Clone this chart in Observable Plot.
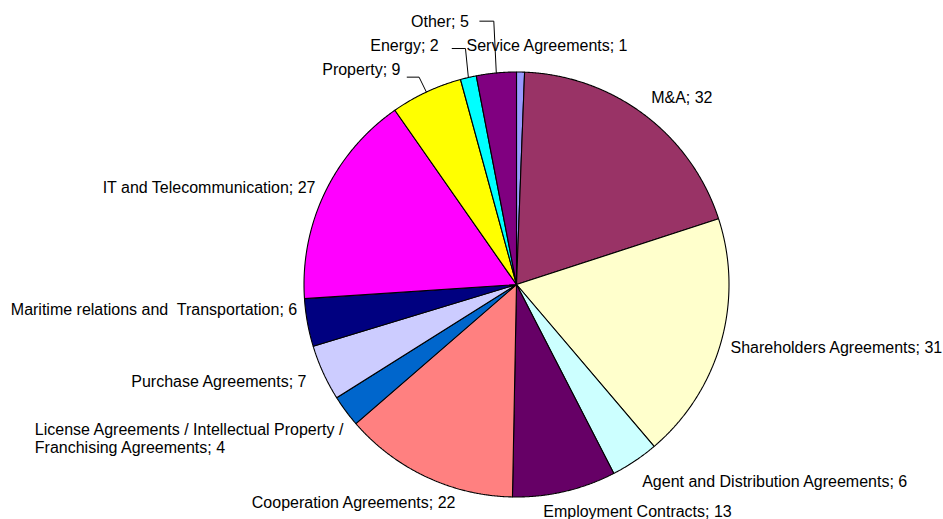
<!DOCTYPE html>
<html>
<head>
<meta charset="utf-8">
<script src="https://cdn.jsdelivr.net/npm/d3@7"></script>
<script src="https://cdn.jsdelivr.net/npm/@observablehq/plot@0.6"></script>
<style>
  html, body { margin: 0; padding: 0; background: #fff; }
  #chart svg text { white-space: pre; }
</style>
</head>
<body>
<div id="chart"></div>
<script>
// ---- data ----
const categories = [
  "Service Agreements", "M&A", "Shareholders Agreements", "Agent and Distribution Agreements",
  "Employment Contracts", "Cooperation Agreements",
  "License Agreements / Intellectual Property /\nFranchising Agreements",
  "Purchase Agreements", "Maritime relations and  Transportation",
  "IT and Telecommunication", "Property", "Energy", "Other"
];
const values = [1, 32, 31, 6, 13, 22, 4, 7, 6, 27, 9, 2, 5];

// ---- styles ----
const palette = [
  "#9999FF", "#993366", "#FFFFCC", "#CCFFFF", "#660066", "#FF8080", "#0066CC",
  "#CCCCFF", "#000080", "#FF00FF", "#FFFF00", "#00FFFF", "#800080"
];

// ---- label layout: offsets (px) from the slice's outer mid-point ----
const labelLayout = [
  {dx: -54,   dy: -26.6, anchor: "start"},
  {dx: 6.5,   dy: -17.9, anchor: "start"},
  {dx: 9.6,   dy: 4.7,   anchor: "start"},
  {dx: 7.4,   dy: 20.5,  anchor: "start"},
  {dx: -21.4, dy: 20,    anchor: "start"},
  {dx: 29.1,  dy: 25.1,  anchor: "end"},
  {dx: -311,  dy: 27.1,  anchor: "start"},
  {dx: -16.7, dy: 8.6,   anchor: "end"},
  {dx: -10.3, dy: -13.3, anchor: "end"},
  {dx: -9.4,  dy: -5.4,  anchor: "end"},
  {dx: -25.9, dy: -22.7, anchor: "end", leader: {sx: -19.2, ex: -7.3, ey: -14.9}},
  {dx: -29.6, dy: -32.1, anchor: "end", leader: {sx: -16.2, ex: -2.9, ey: -29}},
  {dx: -27.5, dy: -51.6, anchor: "end", leader: {sx: -16.5, ex: -2.5, ey: -51.8}}
];

const W = 943, H = 519;
const cx = 516, cy = 284, R = 212.5;

const arcs = d3.pie().sort(null).value(d => d)(values);

// slice polygons
const slicePts = [];
arcs.forEach((a, i) => {
  const name = categories[i];
  slicePts.push({name, color: palette[i], x: 0, y: 0});
  const n = Math.max(2, Math.ceil((a.endAngle - a.startAngle) / (Math.PI / 720)));
  for (let k = 0; k <= n; k++) {
    const t = a.startAngle + (a.endAngle - a.startAngle) * k / n;
    slicePts.push({name, color: palette[i], x: R * Math.sin(t), y: -R * Math.cos(t)});
  }
  slicePts.push({name, color: palette[i], x: 0, y: 0});
});

// labels
const labels = arcs.map((a, i) => {
  const m = (a.startAngle + a.endAngle) / 2;
  const px = R * Math.sin(m), py = -R * Math.cos(m);
  const L = labelLayout[i];
  return {
    text: categories[i] + "; " + values[i],
    x: px + L.dx, y: py + L.dy, anchor: L.anchor, px, py, leader: L.leader, name: categories[i]
  };
});

const leaderPts = [];
labels.forEach(l => {
  if (!l.leader) return;
  const {sx, ex, ey} = l.leader;
  leaderPts.push({name: l.name, x: l.px + sx, y: l.py + ey});
  leaderPts.push({name: l.name, x: l.px + ex, y: l.py + ey});
  leaderPts.push({name: l.name, x: l.px, y: l.py});
});

const font = "'Liberation Sans', Arial, sans-serif";

const chart = Plot.plot({
  width: W,
  height: H,
  margin: 0,
  style: {background: "#fff", fontFamily: font},
  x: {domain: [-cx, W - cx], range: [0, W], axis: null},
  y: {domain: [-cy, H - cy], range: [0, H], axis: null},
  color: {type: "identity"},
  marks: [
    Plot.line(slicePts, {
      x: "x", y: "y", z: "name", fill: "color",
      stroke: "#000", strokeWidth: 1.1, strokeLinejoin: "miter", curve: "linear"
    }),
    Plot.line(leaderPts, {x: "x", y: "y", z: "name", stroke: "#000", strokeWidth: 1}),
    Plot.text(labels.filter(d => d.anchor === "start"), {
      x: "x", y: "y", text: "text", textAnchor: "start", lineAnchor: "middle",
      lineHeight: 1.1, fontSize: 16, fill: "#000", fontFamily: font
    }),
    Plot.text(labels.filter(d => d.anchor === "end"), {
      x: "x", y: "y", text: "text", textAnchor: "end", lineAnchor: "middle",
      lineHeight: 1.1, fontSize: 16, fill: "#000", fontFamily: font
    })
  ]
});

document.getElementById("chart").appendChild(chart);
</script>
</body>
</html>
